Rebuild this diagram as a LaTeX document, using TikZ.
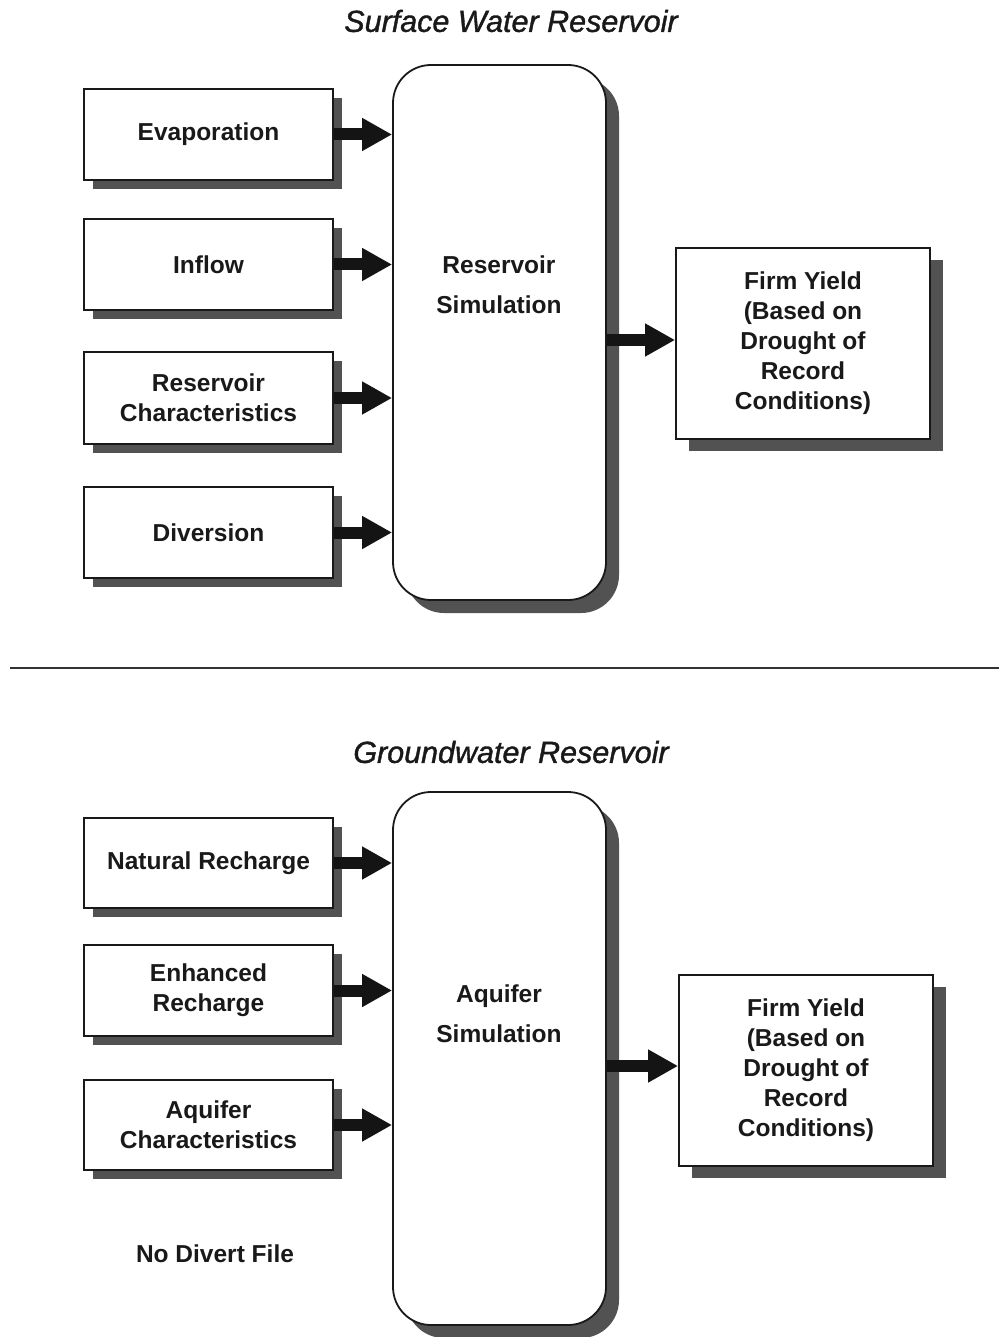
\documentclass[tikz,border=0pt]{standalone}
\usepackage{fontspec}
\setmainfont{Liberation Sans}
\newfontfamily\ttlfont[FakeBold=1.2]{Liberation Sans}
\usetikzlibrary{arrows.meta,shadows}
\begin{document}
\begin{tikzpicture}[x=1pt,y=-1pt,
  txt/.style={font=\fontsize{24.5}{30}\selectfont\bfseries, align=center, text=black!90},
  simtxt/.style={font=\fontsize{24.5}{40}\selectfont\bfseries, align=center, text=black!90},
  inbox/.style={txt, draw=black!90, line width=1.8pt, fill=white, minimum width=249pt, minimum height=91pt, inner sep=0pt,
    drop shadow={shadow xshift=9pt, shadow yshift=-9pt, fill=black!68, opacity=1}},
  simbox/.style={draw=black!90, line width=1.8pt, fill=white, rounded corners=38pt, minimum width=213pt, inner sep=0pt,
    drop shadow={shadow xshift=13pt, shadow yshift=-13pt, fill=black!68, opacity=1}},
  outbox/.style={txt, draw=black!90, line width=1.8pt, fill=white, minimum width=254pt, minimum height=191pt, inner sep=0pt,
    drop shadow={shadow xshift=13pt, shadow yshift=-12pt, fill=black!68, opacity=1}},
  ttl/.style={font=\ttlfont\fontsize{30.5}{34}\selectfont\itshape, text=black!90},
  flow/.style={line width=12pt, black!92, -{Triangle[length=30pt,width=31pt]}}
]
\useasboundingbox[fill=white] (0,0) rectangle (999,1337);

% ---------- Surface water ----------
\node[ttl] (t1) at (511,21) {Surface Water Reservoir};
\node[simbox, minimum height=535pt] (rsim) at (499.5,332.5) {};
\node[simtxt] (rsimt) at (499,285) {Reservoir\\Simulation};

\node[inbox] (evap) at (208.5,134.5) {Evaporation};
\node[inbox] (infl) at (208.5,264.5) {Inflow};
\node[inbox, minimum height=92pt] (rchar) at (208.5,398) {Reservoir\\Characteristics};
\node[inbox] (div) at (208.5,532.5) {Diversion};

\node[outbox] (fy1) at (803,343.5) {Firm Yield\\(Based on\\Drought of\\Record\\Conditions)};

\draw[flow] (evap.east) -- (rsim.west |- evap.east);
\draw[flow] (infl.east) -- (rsim.west |- infl.east);
\draw[flow] (rchar.east) -- (rsim.west |- rchar.east);
\draw[flow] (div.east) -- (rsim.west |- div.east);
\draw[flow] (rsim.east |- 0,340) -- (fy1.west |- 0,340);

% ---------- divider ----------
\coordinate (dl) at (10,668);
\coordinate (dr) at (999,668);
\draw[line width=2pt, black!80] (dl) -- (dr);

% ---------- Groundwater ----------
\node[ttl] (t2) at (511,752) {Groundwater Reservoir};
\node[simbox, minimum height=533pt] (asim) at (499.5,1058.5) {};
\node[simtxt] (asimt) at (499,1014) {Aquifer\\Simulation};

\node[inbox, minimum height=90pt] (nat) at (208.5,863) {Natural Recharge};
\node[inbox] (enh) at (208.5,990.5) {Enhanced\\Recharge};
\node[inbox, minimum height=90pt] (achar) at (208.5,1125) {Aquifer\\Characteristics};

\node[outbox] (fy2) at (806,1070.5) {Firm Yield\\(Based on\\Drought of\\Record\\Conditions)};

\draw[flow] (nat.east) -- (asim.west |- nat.east);
\draw[flow] (enh.east) -- (asim.west |- enh.east);
\draw[flow] (achar.east) -- (asim.west |- achar.east);
\draw[flow] (asim.east |- 0,1066) -- (fy2.west |- 0,1066);

\node[txt] (nodiv) at (215,1254) {No Divert File};
\end{tikzpicture}
\end{document}
